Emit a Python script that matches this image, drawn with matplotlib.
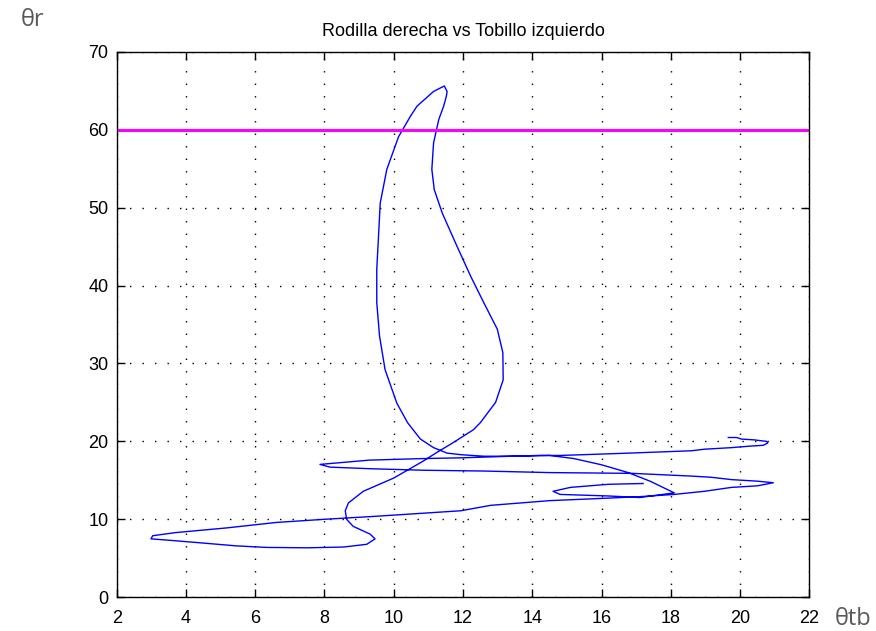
import matplotlib
matplotlib.use("Agg")
import matplotlib.pyplot as plt
from matplotlib import font_manager

# Trayectoria: rodilla derecha (eje y) vs tobillo izquierdo (eje x)
theta_tb = [19.66, 19.9, 20.04, 20.4, 20.77, 20.8, 20.67, 20.3, 19.75, 18.97, 18.6, 18.0, 16.8, 15.5, 14.8, 14.2,
            13.4, 12.6, 11.93, 11.54, 11.15, 10.77, 10.4, 10.09, 9.75, 9.59, 9.51, 9.51, 9.56, 9.61, 9.8, 10.14,
            10.48, 10.67, 11.15, 11.46, 11.54, 11.52, 11.44, 11.3, 11.15, 11.1, 11.17, 11.4, 11.83, 12.22, 12.6,
            12.99, 13.15, 13.16, 12.94, 12.5, 12.3, 11.7, 11.25, 10.86, 10.0, 9.12, 8.69, 8.6, 8.64, 8.83, 9.32,
            9.46, 9.22, 8.55, 7.5, 6.32, 5.45, 4.39, 3.43, 2.99, 3.04, 3.7, 5.17, 6.6, 7.97, 9.5, 11.93, 12.8,
            14.5, 16.07, 17.06, 18.1, 18.97, 19.75, 20.5, 20.96, 20.5, 19.75, 19.17, 18.6, 16.9, 14.5, 12.6,
            10.86, 9.3, 8.16, 7.87, 9.3, 10.86, 12.0, 13.4, 14.5, 15.2, 16.0, 16.77, 17.4, 18.1, 17.1, 16.2,
            14.8, 14.6, 15.1, 16.2, 17.2]
theta_r = [20.5, 20.5, 20.3, 20.2, 20.0, 19.8, 19.5, 19.4, 19.2, 19.0, 18.8, 18.7, 18.5, 18.3, 18.2, 18.2,
           18.1, 18.1, 18.3, 18.5, 19.2, 20.3, 22.4, 24.9, 29.2, 33.5, 37.8, 42.1, 46.3, 50.6, 54.9, 59.1,
           61.7, 63.0, 64.9, 65.6, 64.9, 64.3, 63.0, 61.3, 58.3, 54.9, 52.3, 49.3, 45.0, 41.2, 37.8,
           34.4, 31.4, 27.9, 25.0, 22.4, 21.5, 19.8, 18.6, 17.5, 15.3, 13.6, 12.1, 11.1, 10.0, 9.1, 8.1,
           7.5, 6.8, 6.45, 6.35, 6.4, 6.6, 7.0, 7.35, 7.5, 7.9, 8.3, 8.9, 9.6, 10.0, 10.4, 11.1, 11.8,
           12.4, 12.7, 12.9, 13.2, 13.6, 14.1, 14.3, 14.7, 14.9, 15.1, 15.4, 15.55, 15.9, 16.0, 16.2,
           16.3, 16.5, 16.7, 17.05, 17.6, 17.8, 17.9, 18.1, 18.2, 17.8, 17.0, 16.0, 14.9, 13.4, 12.8, 13.0,
           13.2, 13.6, 14.1, 14.5, 14.6]

limite = 60  # linea de referencia
xticks = list(range(2, 23, 2))
yticks = list(range(0, 71, 10))

disponibles = {f.name for f in font_manager.fontManager.ttflist}
fuente = "Liberation Sans Narrow" if "Liberation Sans Narrow" in disponibles else "Liberation Sans"

fig = plt.figure(figsize=(8.76, 6.31), dpi=100)
fig.patch.set_facecolor("white")
ax = fig.add_axes([0.1332, 0.0534, 0.7907, 0.8647])

ax.plot(theta_tb, theta_r, color=(0, 0, 1), linewidth=1.0)
ax.axhline(limite, color=(1, 0, 1), linewidth=2.2)

ax.set_xlim(2, 22)
ax.set_ylim(0, 70)
ax.set_xticks(xticks)
ax.set_yticks(yticks)
ax.grid(True, linestyle=(0, (1, 8)), color="black", linewidth=1.0)
ax.tick_params(direction="in", length=6, width=1, top=True, right=True, labelsize=13)
ax.tick_params(axis="x", pad=9)
ax.tick_params(axis="y", pad=6)
for lab in ax.get_xticklabels() + ax.get_yticklabels():
    lab.set_family(fuente)
for s in ax.spines.values():
    s.set_linewidth(1.0)

ax.set_title("Rodilla derecha vs Tobillo izquierdo", fontsize=13, family=fuente, pad=11)

fig.text(33 / 876, 1 - 20 / 631, "θr", fontsize=17, color="#595959", ha="center", va="center", family="Open Sans")
fig.text(853 / 876, 1 - 619 / 631, "θtb", fontsize=17, color="#595959", ha="center", va="center", family="Open Sans")

fig.savefig("out.png", dpi=100)
